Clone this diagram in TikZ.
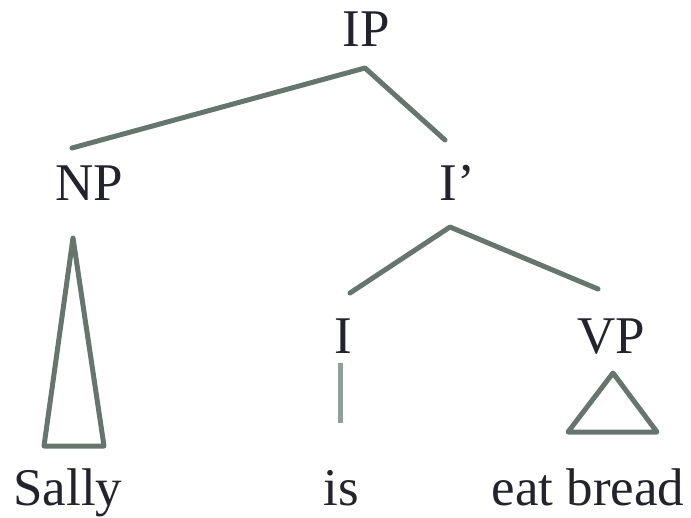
\documentclass[tikz,border=0pt]{standalone}
\usepackage{fontspec}
\setmainfont{Liberation Serif}
\newfontfamily\treefont{Liberation Serif}
\usepackage{xcolor}
\definecolor{edgegray}{HTML}{67766D}
\definecolor{headgray}{HTML}{8FA097}
\definecolor{wordink}{HTML}{23232E}

\begin{document}
\begin{tikzpicture}[x=1pt, y=-1pt,
  cat/.style={anchor=base, inner sep=0pt, text=wordink,
              font=\treefont\fontsize{53}{60}\selectfont},
  edge/.style={draw=edgegray, line width=5pt, line cap=round, line join=round},
  headline/.style={draw=headgray, line width=5pt},
]
\useasboundingbox (0,0) rectangle (691,517);

% ---- Categories ------------------------------------------------------------
\node[cat] (ip)   at (366, 46)  {IP};
\node[cat] (np)   at (89, 200)  {NP};
\node[cat] (ibar) at (457, 200) {I’};
\node[cat] (infl) at (343, 353) {I};
\node[cat] (vp)   at (611, 353) {VP};

% ---- Words -----------------------------------------------------------------
\node[cat] (sally) at (68, 505)  {Sally};
\node[cat] (is)    at (341, 505) {is};
\node[cat] (eat)   at (588, 505) {eat bread};

% ---- Branch points ---------------------------------------------------------
\coordinate (ipTop)   at (365, 68);
\coordinate (npEnd)   at (72, 148);
\coordinate (ibarEnd) at (445, 140);
\coordinate (ibarTop) at (450, 227);
\coordinate (inflEnd) at (350, 293);
\coordinate (vpEnd)   at (598, 289);

% ---- IP -> NP, I' ----------------------------------------------------------
\draw[edge] (npEnd) -- (ipTop) -- (ibarEnd);

% ---- I' -> I, VP -----------------------------------------------------------
\draw[edge] (inflEnd) -- (ibarTop) -- (vpEnd);

% ---- I -> is ---------------------------------------------------------------
\coordinate (isTop) at (340, 363);
\coordinate (isBot) at (340, 423);
\draw[headline] (isTop) -- (isBot);

% ---- Triangles -------------------------------------------------------------
\coordinate (npTri) at (73, 238);
\draw[edge] (npTri) -- (104, 446) -- (44, 446) -- cycle;
\coordinate (vpTri) at (613, 373);
\draw[edge] (vpTri) -- (657, 432) -- (568, 432) -- cycle;

\end{tikzpicture}
\end{document}
